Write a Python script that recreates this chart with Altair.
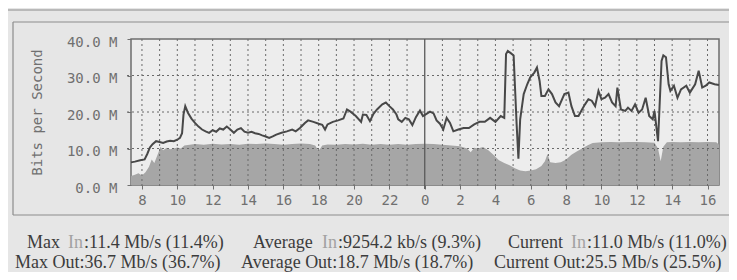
import altair as alt
import pandas as pd

# ---- data (hours since midnight of day 1, values in Mb/s) ----
out_hours = [7.38, 7.6, 7.9, 8.15, 8.3, 8.45, 8.6, 8.8, 9.0, 9.2, 9.4, 9.6, 9.8, 10.0, 10.15, 10.27,
             10.35, 10.45, 10.6, 10.8, 11.0, 11.2, 11.4, 11.6, 11.8, 12.0, 12.2, 12.4, 12.6, 12.8,
             13.0, 13.2, 13.4, 13.6, 13.8, 14.0, 14.2, 14.4, 14.6, 14.8, 15.0, 15.2, 15.4, 15.6,
             15.9, 16.2, 16.5, 16.7, 16.94, 17.22, 17.4, 17.7, 18.0, 18.2, 18.36, 18.5, 18.8, 19.1,
             19.4, 19.6, 19.8, 20.1, 20.4, 20.5, 20.7, 20.9, 21.1, 21.3, 21.6, 21.8, 22.0, 22.2,
             22.4, 22.5, 22.7, 22.9, 23.1, 23.3, 23.5, 23.73, 23.9, 24.1, 24.3, 24.5, 24.67, 24.86,
             25.05, 25.24, 25.43, 25.62, 25.9, 26.2, 26.5, 26.8, 27.1, 27.4, 27.7, 28.0, 28.3, 28.5,
             28.6, 28.7, 28.85, 29.03, 29.1, 29.2, 29.3, 29.4, 29.6, 29.8, 29.97, 30.2, 30.35, 30.5,
             30.6, 30.8, 31.0, 31.2, 31.4, 31.6, 31.9, 32.13, 32.3, 32.5, 32.7, 32.9, 33.07, 33.26,
             33.45, 33.64, 33.83, 34.0, 34.2, 34.4, 34.6, 34.8, 34.9, 35.1, 35.35, 35.5, 35.7, 35.9,
             36.1, 36.3, 36.5, 36.7, 36.9, 37.0, 37.2, 37.3, 37.4, 37.5, 37.65, 37.8, 37.9, 38.1,
             38.3, 38.5, 38.8, 39.0, 39.3, 39.5, 39.7, 39.9, 40.1, 40.4, 40.65]
out_vals = [6.2, 6.4, 6.8, 7.0, 8.5, 10.3, 11.2, 12.0, 11.8, 11.5, 11.9, 12.1, 12.0, 12.4, 12.9, 14.2,
            19.3, 21.6, 19.8, 18.2, 17.0, 16.0, 15.2, 14.7, 14.3, 15.0, 14.6, 15.5, 15.2, 16.0,
            15.2, 14.3, 15.2, 15.6, 14.6, 14.3, 14.6, 14.2, 14.0, 13.6, 13.3, 12.9, 13.3, 13.8,
            14.3, 14.7, 15.2, 14.7, 15.6, 17.0, 17.7, 17.3, 16.8, 16.5, 15.2, 16.6, 17.3, 17.7,
            18.2, 20.7, 20.1, 18.9, 17.3, 19.3, 19.2, 17.5, 19.5, 20.7, 22.1, 22.6, 21.6, 20.7,
            19.3, 18.0, 17.3, 18.4, 18.0, 16.4, 18.6, 20.4, 18.9, 19.5, 20.1, 19.6, 17.7, 16.8,
            15.2, 18.4, 17.0, 14.7, 15.2, 15.6, 15.6, 16.6, 17.3, 17.3, 18.4, 17.3, 18.9, 18.4,
            35.9, 36.7, 36.2, 35.5, 27.6, 16.6, 7.2, 18.0, 24.9, 27.6, 29.5, 30.8, 32.2, 28.5,
            24.4, 24.4, 26.2, 24.9, 22.6, 21.6, 24.9, 25.3, 21.6, 18.9, 18.9, 20.7, 22.1, 23.5,
            23.1, 21.6, 25.8, 23.5, 23.9, 24.9, 22.6, 21.6, 26.7, 20.7, 20.3, 21.2, 20.3, 22.1,
            19.8, 20.7, 23.9, 18.9, 18.0, 20.3, 12.0, 23.0, 34.0, 35.5, 35.0, 27.6, 25.8, 27.2,
            23.9, 26.2, 27.2, 25.3, 27.6, 31.3, 26.7, 27.2, 28.1, 27.6, 27.4]

in_hours = [7.38, 7.6, 7.8, 8.0, 8.2, 8.4, 8.55, 8.7, 8.9, 9.05, 9.2, 9.4, 9.6, 9.8, 10.0, 10.2,
            10.4, 10.7, 11.0, 11.5, 12.0, 12.5, 13.0, 13.5, 14.0, 14.5, 15.0, 15.5, 16.0, 16.5,
            17.0, 17.5, 17.8, 18.0, 18.2, 18.5, 19.0, 19.5, 20.0, 20.5, 21.0, 21.5, 22.0, 22.5,
            23.0, 23.5, 24.0, 24.5, 25.0, 25.5, 26.0, 26.4, 26.6, 26.8, 27.0, 27.3, 27.6, 27.9,
            28.2, 28.5, 28.8, 29.1, 29.4, 29.7, 30.0, 30.3, 30.6, 30.8, 30.95, 31.1, 31.4, 31.7,
            32.0, 32.3, 32.6, 32.9, 33.2, 33.5, 34.0, 34.5, 35.0, 35.5, 36.0, 36.5, 37.0, 37.2,
            37.35, 37.5, 37.7, 38.0, 38.5, 39.0, 39.5, 40.0, 40.5, 40.65]
in_vals = [2.5, 2.8, 3.2, 2.6, 3.5, 5.0, 7.0, 6.0, 8.5, 10.5, 9.5, 10.2, 9.8, 10.0, 10.3, 10.0,
           10.8, 11.0, 11.2, 11.0, 11.3, 11.1, 11.2, 11.0, 11.3, 11.2, 11.4, 11.2, 11.0, 11.2,
           11.4, 11.2, 10.8, 9.3, 10.8, 11.1, 11.0, 11.2, 11.1, 11.3, 11.0, 11.2, 11.0, 11.2,
           11.0, 11.2, 11.3, 11.2, 11.0, 10.8, 10.6, 10.0, 9.0, 10.2, 10.0, 10.4, 9.5, 8.2,
           6.8, 6.0, 5.4, 4.6, 4.0, 3.8, 4.0, 4.3, 5.2, 6.5, 8.5, 6.2, 6.0, 6.2,
           7.0, 8.3, 9.2, 10.0, 10.8, 11.5, 11.7, 11.8, 11.7, 11.8, 11.8, 11.7, 11.6, 10.0,
           6.5, 10.5, 11.7, 11.8, 11.7, 11.8, 11.7, 11.8, 11.7, 11.0]

x_tick_values = [8, 10, 12, 14, 16, 18, 20, 22, 24, 26, 28, 30, 32, 34, 36, 38, 40]
hour_grid = [8, 9, 10, 11, 12, 13, 14, 15, 16, 17, 18, 19, 20, 21, 22, 23,
             25, 26, 27, 28, 29, 30, 31, 32, 33, 34, 35, 36, 37, 38, 39, 40]
midnight = [24]
y_tick_values = [0, 10, 20, 30, 40]
y_grid = [10, 20, 30]

# legend text segments: (text, is_in_label)
line1 = [("Max", False), ("In", True), (":11.4 Mb/s (11.4%)", False),
         ("Average", False), ("In", True), (":9254.2 kb/s (9.3%)", False),
         ("Current", False), ("In", True), (":11.0 Mb/s (11.0%)", False)]
line2 = [("Max Out:36.7 Mb/s (36.7%)", False),
         ("Average Out:18.7 Mb/s (18.7%)", False),
         ("Current Out:25.5 Mb/s (25.5%)", False)]

# ---- layout (pixels, page coordinates) ----
W, H = 588, 146
X0 = 131  # page x of plot left
Y0 = 39   # page y of plot top
line1_x = [27, 68, 84, 253, 322, 338, 508, 571, 587]
line2_x = [15, 241, 494]
line1_y, line2_y = 248, 268   # text baselines
FS = 18

DOMAIN = [7.38, 40.65]
xs = alt.Scale(domain=DOMAIN, nice=False, zero=False)
ys = alt.Scale(domain=[0, 40], nice=False)

out_df = pd.DataFrame({"h": out_hours, "v": out_vals})
in_df = pd.DataFrame({"h": in_hours, "v": in_vals})

MONO = "DejaVu Sans Mono"
AX_COL = "#707070"

x_axis = alt.Axis(values=x_tick_values, labelExpr="'' + (datum.value % 24)",
                  grid=False, domain=False, tickSize=4, tickColor=AX_COL,
                  labelFont=MONO, labelFontSize=14, labelColor=AX_COL,
                  labelPadding=4, labelOverlap=False, title=None)
y_axis = alt.Axis(values=y_tick_values, labelExpr="format(datum.value, '.1f') + ' M'",
                  grid=False, domain=False, tickSize=4, tickColor=AX_COL,
                  labelFont=MONO, labelFontSize=14, labelColor=AX_COL,
                  labelPadding=10, labelOffset=3, labelOverlap=False,
                  title="Bits per Second", titleFont=MONO,
                  titleFontSize=14, titleFontWeight="normal",
                  titleColor=AX_COL, titlePadding=22)

area = alt.Chart(in_df).mark_area(color="#a6a6a6", opacity=1).encode(
    x=alt.X("h:Q", scale=xs, axis=x_axis),
    y=alt.Y("v:Q", scale=ys, axis=y_axis),
)

vgrid = alt.Chart(pd.DataFrame({"h": hour_grid})).mark_rule(
    color="#6a6a6a", strokeDash=[2, 3], strokeWidth=1).encode(
    x=alt.X("h:Q", scale=xs, axis=x_axis), y=alt.value(0), y2=alt.value(H + 4))
mgrid = alt.Chart(pd.DataFrame({"h": midnight})).mark_rule(
    color="#5a5a5a", strokeWidth=1.3).encode(
    x=alt.X("h:Q", scale=xs, axis=x_axis), y=alt.value(0), y2=alt.value(H + 4))
hgrid = alt.Chart(pd.DataFrame({"v": y_grid})).mark_rule(
    color="#6a6a6a", strokeDash=[2, 3], strokeWidth=1).encode(
    y=alt.Y("v:Q", scale=ys, axis=y_axis), x=alt.value(-4), x2=alt.value(W))

line = alt.Chart(out_df).mark_line(color="#484848", strokeWidth=2).encode(
    x=alt.X("h:Q", scale=xs, axis=x_axis), y=alt.Y("v:Q", scale=ys, axis=y_axis))

one = pd.DataFrame({"a": [0]})
FRAME = "#8c8c8c"


def hrule(y, x1, x2):
    return alt.Chart(one).mark_rule(color=FRAME, strokeWidth=1.2).encode(
        x=alt.value(x1 - X0), x2=alt.value(x2 - X0), y=alt.value(y - Y0))


def vrule(x, y1, y2):
    return alt.Chart(one).mark_rule(color=FRAME, strokeWidth=1.2).encode(
        x=alt.value(x - X0), y=alt.value(y1 - Y0), y2=alt.value(y2 - Y0))


frames = [hrule(10, 7, 740), vrule(7, 10, 290), hrule(22, 13, 740), vrule(13, 22, 215),
          hrule(215, 13, 740)]


def seg(text, xp, yp, light):
    return alt.Chart(one).mark_text(text=text, align="left", baseline="alphabetic",
                                    font="Liberation Serif", fontSize=FS,
                                    color="#a2a2a2" if light else "#3c3c3c").encode(
        x=alt.value(xp - X0), y=alt.value(yp - Y0))


texts = [seg(t, x, line1_y, l) for (t, l), x in zip(line1, line1_x)]
texts += [seg(t, x, line2_y, l) for (t, l), x in zip(line2, line2_x)]

chart = alt.layer(*frames, area, vgrid, mgrid, hgrid, line, *texts).properties(
    width=W, height=H,
    autosize=alt.AutoSizeParams(type="none"),
    padding={"left": X0 - 8, "top": Y0 - 8, "right": 721 - (X0 - 8) - W, "bottom": 264 - (Y0 - 8) - H},
    background="#e6e6e6",
).configure_view(fill="#ededed", stroke="#6e6e6e", strokeWidth=1.5
).configure_axis(labelOverlap=False)

chart.save("out.html", embed_options={"renderer": "svg", "actions": False})
